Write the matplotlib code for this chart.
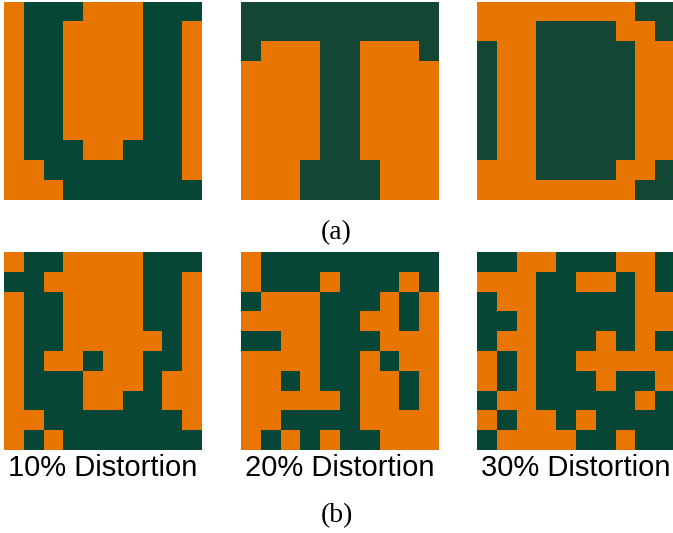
import numpy as np
import matplotlib
matplotlib.use("Agg")
import matplotlib.pyplot as plt
from matplotlib.colors import ListedColormap

# 10x10 binary letter patterns: 1 = orange pixel, 0 = green pixel
letter_U = [
    [1, 0, 0, 0, 1, 1, 1, 0, 0, 0],
    [1, 0, 0, 1, 1, 1, 1, 0, 0, 1],
    [1, 0, 0, 1, 1, 1, 1, 0, 0, 1],
    [1, 0, 0, 1, 1, 1, 1, 0, 0, 1],
    [1, 0, 0, 1, 1, 1, 1, 0, 0, 1],
    [1, 0, 0, 1, 1, 1, 1, 0, 0, 1],
    [1, 0, 0, 1, 1, 1, 1, 0, 0, 1],
    [1, 0, 0, 0, 1, 1, 0, 0, 0, 1],
    [1, 1, 0, 0, 0, 0, 0, 0, 0, 1],
    [1, 1, 1, 0, 0, 0, 0, 0, 0, 0],
]
letter_T = [
    [0, 0, 0, 0, 0, 0, 0, 0, 0, 0],
    [0, 0, 0, 0, 0, 0, 0, 0, 0, 0],
    [0, 1, 1, 1, 0, 0, 1, 1, 1, 0],
    [1, 1, 1, 1, 0, 0, 1, 1, 1, 1],
    [1, 1, 1, 1, 0, 0, 1, 1, 1, 1],
    [1, 1, 1, 1, 0, 0, 1, 1, 1, 1],
    [1, 1, 1, 1, 0, 0, 1, 1, 1, 1],
    [1, 1, 1, 1, 0, 0, 1, 1, 1, 1],
    [1, 1, 1, 0, 0, 0, 0, 1, 1, 1],
    [1, 1, 1, 0, 0, 0, 0, 1, 1, 1],
]
letter_D = [
    [1, 1, 1, 1, 1, 1, 1, 1, 0, 0],
    [1, 1, 1, 0, 0, 0, 0, 1, 1, 0],
    [0, 1, 1, 0, 0, 0, 0, 0, 1, 1],
    [0, 1, 1, 0, 0, 0, 0, 0, 1, 1],
    [0, 1, 1, 0, 0, 0, 0, 0, 1, 1],
    [0, 1, 1, 0, 0, 0, 0, 0, 1, 1],
    [0, 1, 1, 0, 0, 0, 0, 0, 1, 1],
    [0, 1, 1, 0, 0, 0, 0, 0, 1, 1],
    [1, 1, 1, 0, 0, 0, 0, 1, 1, 0],
    [1, 1, 1, 1, 1, 1, 1, 1, 0, 0],
]

# Distorted versions
distort_10 = [
    [1, 0, 0, 1, 1, 1, 1, 0, 0, 0],
    [0, 0, 1, 1, 1, 1, 1, 0, 0, 1],
    [1, 0, 0, 1, 1, 1, 1, 0, 0, 1],
    [1, 0, 0, 1, 1, 1, 1, 0, 0, 1],
    [1, 0, 0, 1, 1, 1, 1, 1, 0, 1],
    [1, 0, 1, 1, 0, 1, 1, 0, 0, 1],
    [1, 0, 0, 0, 1, 1, 1, 0, 1, 1],
    [1, 0, 0, 0, 1, 1, 0, 0, 1, 1],
    [1, 1, 0, 0, 0, 0, 0, 0, 0, 1],
    [1, 0, 1, 0, 0, 0, 0, 0, 0, 0],
]
distort_20 = [
    [1, 0, 0, 0, 0, 0, 0, 0, 0, 0],
    [1, 0, 0, 0, 1, 0, 0, 0, 1, 0],
    [0, 1, 1, 1, 0, 0, 0, 1, 0, 1],
    [1, 1, 1, 1, 0, 0, 1, 1, 0, 1],
    [0, 0, 1, 1, 0, 0, 0, 1, 1, 1],
    [1, 1, 1, 1, 0, 0, 1, 0, 1, 1],
    [1, 1, 0, 1, 0, 0, 1, 1, 0, 1],
    [1, 1, 1, 1, 1, 0, 1, 1, 0, 1],
    [1, 1, 0, 0, 0, 0, 1, 1, 1, 1],
    [1, 0, 1, 0, 1, 0, 0, 1, 1, 1],
]
distort_30 = [
    [0, 0, 1, 1, 0, 0, 0, 1, 1, 0],
    [1, 1, 1, 0, 0, 1, 1, 0, 1, 0],
    [0, 1, 1, 0, 0, 0, 0, 0, 1, 1],
    [0, 0, 1, 0, 0, 0, 0, 0, 1, 1],
    [0, 1, 1, 0, 0, 0, 1, 0, 1, 0],
    [1, 0, 1, 0, 0, 1, 1, 1, 1, 1],
    [1, 0, 1, 0, 0, 0, 1, 0, 0, 1],
    [0, 1, 1, 0, 0, 0, 0, 0, 1, 0],
    [1, 0, 1, 1, 0, 1, 0, 0, 0, 0],
    [0, 1, 1, 1, 1, 0, 0, 1, 0, 0],
]

top_patterns = [letter_U, letter_T, letter_D]
bottom_patterns = [distort_10, distort_20, distort_30]
bottom_labels = ["10% Distortion", "20% Distortion", "30% Distortion"]

orange = "#E87500"
green_top = ["#064636", "#134734", "#134734"]
green_bottom = "#064636"

W, H = 673, 533
fig = plt.figure(figsize=(W / 100, H / 100), dpi=100)
fig.patch.set_facecolor("white")

panel_x = [4.0, 241.0, 477.3]
panel_w = 197.3
panel_h = 198.0
top_y = 2.0
bottom_y = 251.7


def add_panel(x, y_top, grid, green):
    ax = fig.add_axes([x / W, 1 - (y_top + panel_h) / H, panel_w / W, panel_h / H])
    cmap = ListedColormap([green, orange])
    ax.imshow(np.array(grid), cmap=cmap, vmin=0, vmax=1,
              interpolation="nearest", aspect="auto")
    ax.set_axis_off()
    return ax


for x, grid, g in zip(panel_x, top_patterns, green_top):
    add_panel(x, top_y, grid, g)

for x, grid, label in zip(panel_x, bottom_patterns, bottom_labels):
    add_panel(x, bottom_y, grid, green_bottom)
    fig.text((x + panel_w / 2) / W, 1 - 468 / H, label,
             ha="center", va="center", fontsize=21,
             family="Liberation Sans", color="black")

fig.text(0.5, 1 - 233 / H, "(a)", ha="center", va="center",
         fontsize=20, family="Liberation Serif", color="black")
fig.text(0.5, 1 - 516 / H, "(b)", ha="center", va="center",
         fontsize=20, family="Liberation Serif", color="black")

fig.savefig("out.png", dpi=100, facecolor="white")
